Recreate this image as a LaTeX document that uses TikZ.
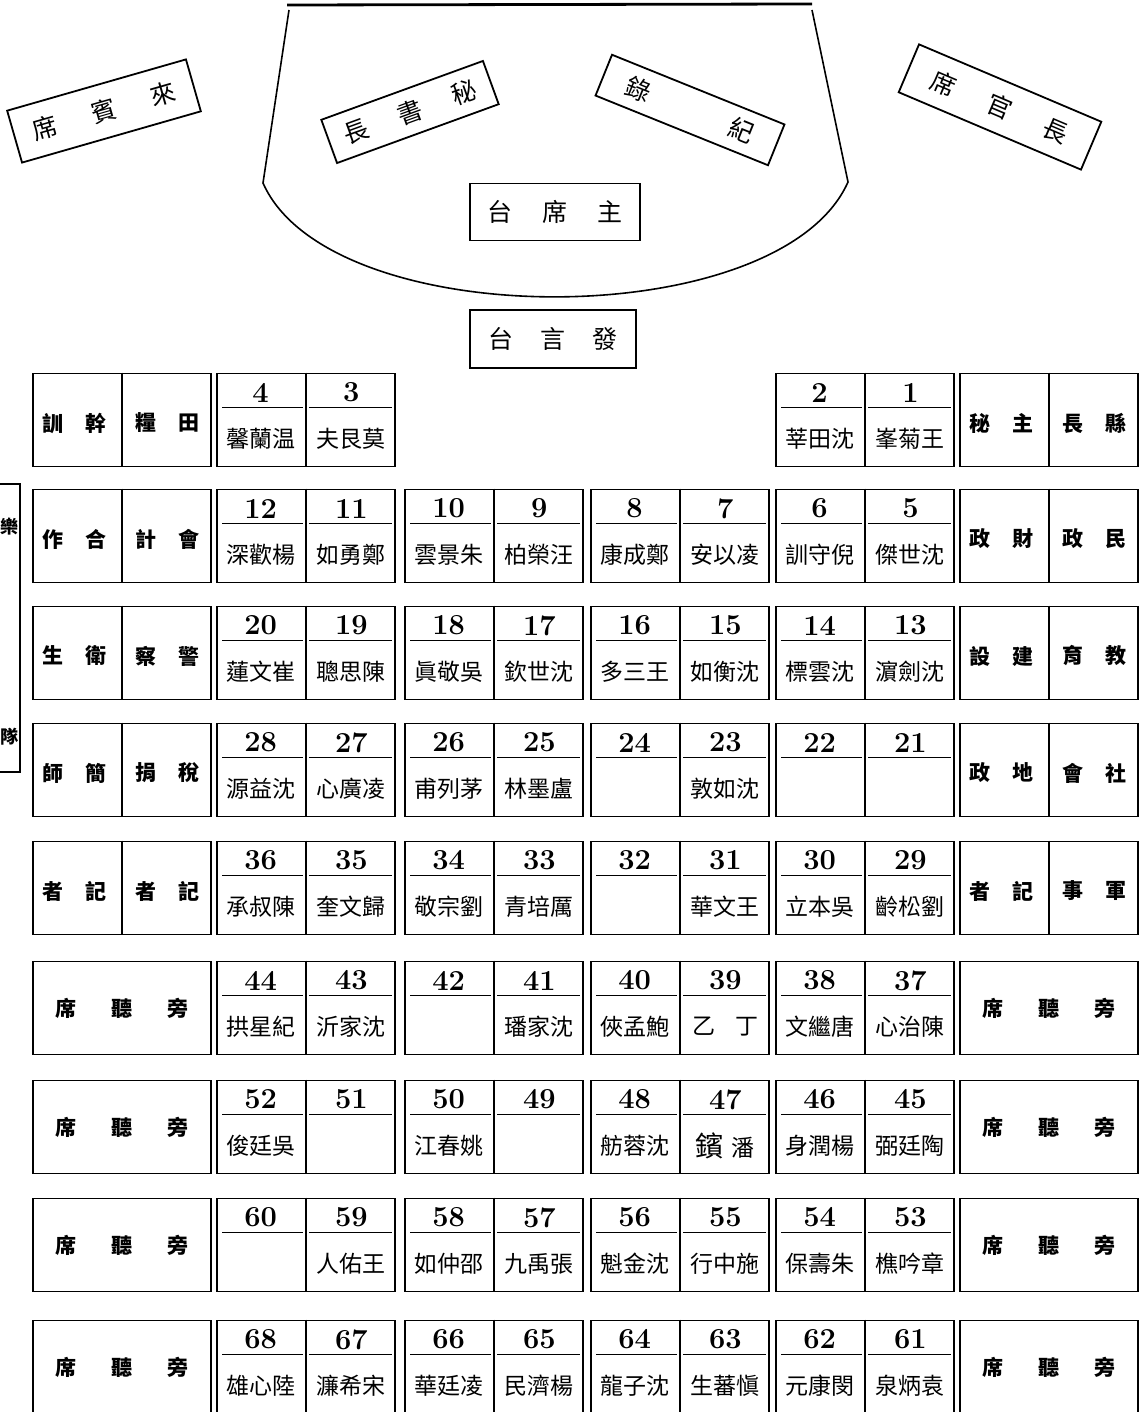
\documentclass[tikz,border=0pt]{standalone}
\usepackage{fontspec}
\usepackage{tikz}
\newfontfamily\cjk{Noto Sans CJK TC}

% one desk of two seats: name, centre, left number, left person, right number, right person
\newcommand{\seatpair}[6]{%
  \node[seat] (#1) at (#2) {};
  \draw[rule] (#1.north) -- (#1.south);
  \draw[rule] ([shift={(6,35)}]#1.north west) -- ([shift={(-3,35)}]#1.north);
  \draw[rule] ([shift={(3,35)}]#1.north) -- ([shift={(-4,35)}]#1.north east);
  \node[num] (#1-ln) at ([shift={(44.5,20)}]#1.north west) {#3};
  \node[who] (#1-lw) at ([shift={(44.5,66)}]#1.north west) {#4};
  \node[num] (#1-rn) at ([shift={(-44.5,20)}]#1.north east) {#5};
  \node[who] (#1-rw) at ([shift={(-44.5,66)}]#1.north east) {#6};
}
% side desk split in two halves
\newcommand{\tagpair}[4]{%
  \node[seat] (#1) at (#2) {};
  \draw[rule] (#1.north) -- (#1.south);
  \node[lab] (#1-l) at ([shift={(42,3)}]#1.west) {#3};
  \node[lab] (#1-r) at ([shift={(-44,3)}]#1.east) {#4};
}

\begin{document}
\begin{tikzpicture}[x=0.5pt,y=-0.5pt,
  seat/.style={draw,line width=0.9pt,minimum width=89pt,minimum height=46.5pt,inner sep=0pt},
  rule/.style={line width=0.8pt},
  num/.style={inner sep=0pt,font=\fontsize{14.5}{14.5}\selectfont\bfseries},
  who/.style={inner sep=0pt,font=\cjk\fontsize{11.5}{11.5}\selectfont},
  lab/.style={inner sep=0pt,font=\cjk\bfseries\fontsize{10.5}{10.5}\selectfont},
  sign/.style={draw,line width=0.9pt,inner sep=0pt,font=\cjk\fontsize{12.5}{12.5}\selectfont}]

  \useasboundingbox (0,0) rectangle (1144,1412);

  % stage
  \draw[line width=1.4pt] (287,5) -- (812,4);
  \draw[line width=0.8pt] (289,10) -- (263,183)
    .. controls (330,335) and (780,335) .. (848,182) -- (812,10);

  \node[sign,rotate=16,minimum width=93pt,minimum height=27pt] (guest) at (104,111)
    {席\hspace{18pt}賓\hspace{18pt}來};
  \node[sign,rotate=20,minimum width=86pt,minimum height=23pt] (secr) at (410,112)
    {長\hspace{16pt}書\hspace{16pt}秘};
  \node[sign,rotate=-22,minimum width=93pt,minimum height=22pt] (minutes) at (690,110)
    {錄\hspace{43pt}紀};
  \node[sign,rotate=-23,minimum width=99pt,minimum height=26pt] (officials) at (1000,107)
    {席\hspace{18pt}官\hspace{18pt}長};
  \node[sign,minimum width=85pt,minimum height=28.5pt] (chair) at (555,212)
    {台\hspace{15pt}席\hspace{15pt}主};
  \node[sign,minimum width=83pt,minimum height=29pt] (speaker) at (553,339)
    {台\hspace{13.5pt}言\hspace{13.5pt}發};

  % band, at the left edge
  \draw[rule] (-40,484) -- (20,484) -- (20,772) -- (-40,772);
  \node[lab,font=\cjk\bfseries\fontsize{9}{9}\selectfont] (band1) at (10,527) {樂};
  \node[lab,font=\cjk\bfseries\fontsize{9}{9}\selectfont] (band2) at (10,737) {隊};

  % row 1
  \tagpair{lt1}{122,420}{訓\hspace{11pt}幹}{糧\hspace{11pt}田}
  \seatpair{s4}{306,420}{4}{馨蘭温}{3}{夫艮莫}
  \seatpair{s2}{865,420}{2}{莘田沈}{1}{峯菊王}
  \tagpair{rt1}{1049,420}{秘\hspace{11pt}主}{長\hspace{11pt}縣}

  % row 2
  \tagpair{lt2}{122,536}{作\hspace{11pt}合}{計\hspace{11pt}會}
  \seatpair{s12}{306,536}{12}{深歡楊}{11}{如勇鄭}
  \seatpair{s10}{494,536}{10}{雲景朱}{9}{柏榮汪}
  \seatpair{s8}{680,536}{8}{康成鄭}{7}{安以凌}
  \seatpair{s6}{865,536}{6}{訓守倪}{5}{傑世沈}
  \tagpair{rt2}{1049,536}{政\hspace{11pt}財}{政\hspace{11pt}民}

  % row 3
  \tagpair{lt3}{122,653}{生\hspace{11pt}衛}{察\hspace{11pt}警}
  \seatpair{s20}{306,653}{20}{蓮文崔}{19}{聰思陳}
  \seatpair{s18}{494,653}{18}{眞敬吳}{17}{欽世沈}
  \seatpair{s16}{680,653}{16}{多三王}{15}{如衡沈}
  \seatpair{s14}{865,653}{14}{標雲沈}{13}{濵劍沈}
  \tagpair{rt3}{1049,653}{設\hspace{11pt}建}{育\hspace{11pt}教}

  % row 4
  \tagpair{lt4}{122,770}{師\hspace{11pt}簡}{捐\hspace{11pt}稅}
  \seatpair{s28}{306,770}{28}{源益沈}{27}{心廣凌}
  \seatpair{s26}{494,770}{26}{甫列茅}{25}{林墨盧}
  \seatpair{s24}{680,770}{24}{}{23}{敦如沈}
  \seatpair{s22}{865,770}{22}{}{21}{}
  \tagpair{rt4}{1049,770}{政\hspace{11pt}地}{會\hspace{11pt}社}

  % row 5
  \tagpair{lt5}{122,888}{者\hspace{11pt}記}{者\hspace{11pt}記}
  \seatpair{s36}{306,888}{36}{承叔陳}{35}{奎文歸}
  \seatpair{s34}{494,888}{34}{敬宗劉}{33}{青培厲}
  \seatpair{s32}{680,888}{32}{}{31}{華文王}
  \seatpair{s30}{865,888}{30}{立本吳}{29}{齡松劉}
  \tagpair{rt5}{1049,888}{者\hspace{11pt}記}{事\hspace{11pt}軍}

  % row 6
  \node[seat,lab] (lt6) at (122,1008) {席\hspace{17.5pt}聽\hspace{17.5pt}旁};
  \seatpair{s44}{306,1008}{44}{拱星紀}{43}{沂家沈}
  \seatpair{s42}{494,1008}{42}{}{41}{璠家沈}
  \seatpair{s40}{680,1008}{40}{俠孟鮑}{39}{乙\hspace{10pt}丁}
  \seatpair{s38}{865,1008}{38}{文繼唐}{37}{心治陳}
  \node[seat,lab] (rt6) at (1049,1008) {席\hspace{17.5pt}聽\hspace{17.5pt}旁};

  % row 7
  \node[seat,lab] (lt7) at (122,1127) {席\hspace{17.5pt}聽\hspace{17.5pt}旁};
  \seatpair{s52}{306,1127}{52}{俊廷吳}{51}{}
  \seatpair{s50}{494,1127}{50}{江春姚}{49}{}
  \seatpair{s48}{680,1127}{48}{舫蓉沈}{47}{{\fontsize{14}{14}\selectfont 鑌}\hspace{4pt}潘}
  \seatpair{s46}{865,1127}{46}{身潤楊}{45}{弼廷陶}
  \node[seat,lab] (rt7) at (1049,1127) {席\hspace{17.5pt}聽\hspace{17.5pt}旁};

  % row 8
  \node[seat,lab] (lt8) at (122,1245) {席\hspace{17.5pt}聽\hspace{17.5pt}旁};
  \seatpair{s60}{306,1245}{60}{}{59}{人佑王}
  \seatpair{s58}{494,1245}{58}{如仲邵}{57}{九禹張}
  \seatpair{s56}{680,1245}{56}{魁金沈}{55}{行中施}
  \seatpair{s54}{865,1245}{54}{保壽朱}{53}{樵吟章}
  \node[seat,lab] (rt8) at (1049,1245) {席\hspace{17.5pt}聽\hspace{17.5pt}旁};

  % row 9, cut off at the bottom edge
  \node[seat,lab] (lt9) at (122,1367) {席\hspace{17.5pt}聽\hspace{17.5pt}旁};
  \seatpair{s68}{306,1367}{68}{雄心陸}{67}{濂希宋}
  \seatpair{s66}{494,1367}{66}{華廷凌}{65}{民濟楊}
  \seatpair{s64}{680,1367}{64}{龍子沈}{63}{生蕃愼}
  \seatpair{s62}{865,1367}{62}{元康閔}{61}{泉炳袁}
  \node[seat,lab] (rt9) at (1049,1367) {席\hspace{17.5pt}聽\hspace{17.5pt}旁};
\end{tikzpicture}
\end{document}
